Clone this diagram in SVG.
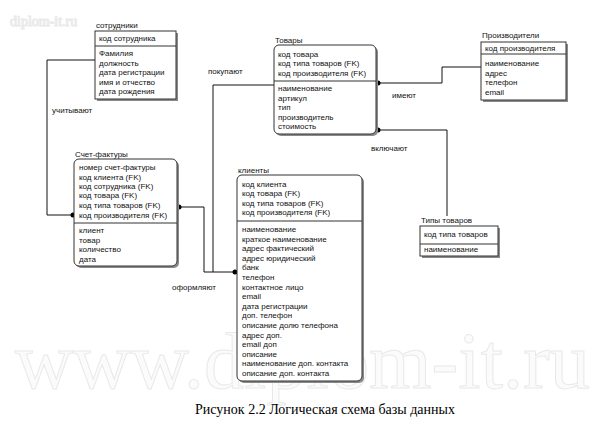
<svg xmlns="http://www.w3.org/2000/svg" width="599" height="426" viewBox="0 0 599 426">
<style>
.t{font-family:"Liberation Sans","DejaVu Sans",Arial,sans-serif;font-size:8px;fill:#111}
.lbl{font-family:"Liberation Sans","DejaVu Sans",Arial,sans-serif;font-size:8px;fill:#111}
.box{fill:#fff;stroke:#333;stroke-width:1}
.sh{fill:#8a8a8a}
.div{stroke:#333;stroke-width:1}
.con{fill:none;stroke:#111;stroke-width:1}
.dot{fill:#000}
.wm{font-family:"Liberation Serif","DejaVu Serif",serif;fill:#fbfbfb;stroke:#e9e9e9;stroke-width:1}
.cap{font-family:"Liberation Serif","Times New Roman",serif;font-size:14px;fill:#000}
</style>
<rect width="599" height="426" fill="#fff"/>
<g id="watermark">
<text class="wm" x="10" y="26" font-size="14" fill="#f2f2f2" stroke="none">diplom-it.ru</text>
<text class="wm" x="15" y="388" font-size="80" textLength="575" lengthAdjust="spacingAndGlyphs">www.diplom-it.ru</text>
</g>
<g id="connectors">
<path class="con" d="M95,60 H47 V215 H74"/>
<circle class="dot" cx="73" cy="215" r="2.5"/>
<path class="con" d="M177,207 H204 V272 H237"/>
<circle class="dot" cx="179" cy="207" r="2.5"/>
<circle class="dot" cx="235" cy="272" r="2.5"/>
<path class="con" d="M274,85 H213 V272"/>
<path class="con" d="M376,83 H442 V67 H481"/>
<circle class="dot" cx="378" cy="83" r="2.5"/>
<path class="con" d="M376,130 H447 V216"/>
<circle class="dot" cx="378" cy="130" r="2.5"/>
<text class="lbl" x="52" y="113">учитывают</text>
<text class="lbl" x="172" y="290">оформляют</text>
<text class="lbl" x="208" y="74">покупают</text>
<text class="lbl" x="392" y="98">имеют</text>
<text class="lbl" x="371" y="151">включают</text>
</g>
<g id="sotrudniki">
<text class="lbl" x="96" y="28">сотрудники</text>
<rect class="sh" x="97" y="33" width="81" height="68"/>
<rect class="box" x="95" y="31" width="81" height="68"/>
<line class="div" x1="95" y1="46" x2="176" y2="46"/>
<text class="t" x="99" y="41">код сотрудника</text>
<text class="t" x="99" y="56">Фамилия</text>
<text class="t" x="99" y="66">должность</text>
<text class="t" x="99" y="75">дата регистрации</text>
<text class="t" x="99" y="85">имя и отчество</text>
<text class="t" x="99" y="94">дата рождения</text>
</g>
<g id="schet">
<text class="lbl" x="75" y="157">Счет-фактуры</text>
<rect class="sh" x="76" y="161" width="103" height="107" rx="5"/>
<rect class="box" x="74" y="159" width="103" height="107" rx="5"/>
<line class="div" x1="74" y1="223" x2="177" y2="223"/>
<text class="t" x="79" y="170">номер счет-фактуры</text>
<text class="t" x="79" y="180">код клиента (FK)</text>
<text class="t" x="79" y="189">код сотрудника (FK)</text>
<text class="t" x="79" y="198">код товара (FK)</text>
<text class="t" x="79" y="208">код типа товаров (FK)</text>
<text class="t" x="79" y="218">код производителя (FK)</text>
<text class="t" x="79" y="233">клиент</text>
<text class="t" x="79" y="243">товар</text>
<text class="t" x="79" y="252">количество</text>
<text class="t" x="79" y="262">дата</text>
</g>
<g id="tovary">
<text class="lbl" x="275" y="43">Товары</text>
<rect class="sh" x="276" y="47" width="102" height="89" rx="5"/>
<rect class="box" x="274" y="45" width="102" height="89" rx="5"/>
<line class="div" x1="274" y1="81" x2="376" y2="81"/>
<text class="t" x="278" y="57">код товара</text>
<text class="t" x="278" y="66">код типа товаров (FK)</text>
<text class="t" x="278" y="76">код производителя (FK)</text>
<text class="t" x="278" y="91">наименование</text>
<text class="t" x="278" y="100.5">артикул</text>
<text class="t" x="278" y="110">тип</text>
<text class="t" x="278" y="119.5">производитель</text>
<text class="t" x="278" y="129">стоимость</text>
</g>
<g id="proizvoditeli">
<text class="lbl" x="482" y="38">Производители</text>
<rect class="sh" x="483" y="44" width="85" height="58"/>
<rect class="box" x="481" y="42" width="85" height="58"/>
<line class="div" x1="481" y1="54" x2="566" y2="54"/>
<text class="t" x="485" y="51">код производителя</text>
<text class="t" x="485" y="66">наименование</text>
<text class="t" x="485" y="76">адрес</text>
<text class="t" x="485" y="85">телефон</text>
<text class="t" x="485" y="95">email</text>
</g>
<g id="klienty">
<text class="lbl" x="238" y="173">клиенты</text>
<rect class="sh" x="239" y="177" width="125" height="206" rx="5"/>
<rect class="box" x="237" y="175" width="125" height="206" rx="5"/>
<line class="div" x1="237" y1="221" x2="362" y2="221"/>
<text class="t" x="242" y="187">код клиента</text>
<text class="t" x="242" y="196">код товара (FK)</text>
<text class="t" x="242" y="205.5">код типа товаров (FK)</text>
<text class="t" x="242" y="215">код производителя (FK)</text>
<text class="t" x="242" y="232">наименование</text>
<text class="t" x="242" y="241.6">краткое наименование</text>
<text class="t" x="242" y="251.2">адрес фактический</text>
<text class="t" x="242" y="260.8">адрес юридический</text>
<text class="t" x="242" y="270.4">банк</text>
<text class="t" x="242" y="280">телефон</text>
<text class="t" x="242" y="289.6">контактное лицо</text>
<text class="t" x="242" y="299.2">email</text>
<text class="t" x="242" y="308.8">дата регистрации</text>
<text class="t" x="242" y="318.4">доп. телефон</text>
<text class="t" x="242" y="328">описание долю телефона</text>
<text class="t" x="242" y="337.6">адрес доп.</text>
<text class="t" x="242" y="347.2">email доп</text>
<text class="t" x="242" y="356.8">описание</text>
<text class="t" x="242" y="366.4">наименование доп. контакта</text>
<text class="t" x="242" y="376">описание доп. контакта</text>
</g>
<g id="tipy">
<text class="lbl" x="421" y="223">Типы товаров</text>
<rect class="sh" x="422" y="228" width="78" height="30"/>
<rect class="box" x="420" y="226" width="78" height="30"/>
<line class="div" x1="420" y1="244" x2="498" y2="244"/>
<text class="t" x="424" y="237">код типа товаров</text>
<text class="t" x="424" y="252">наименование</text>
</g>
<text class="cap" x="325" y="414" text-anchor="middle">Рисунок 2.2 Логическая схема базы данных</text>
</svg>
